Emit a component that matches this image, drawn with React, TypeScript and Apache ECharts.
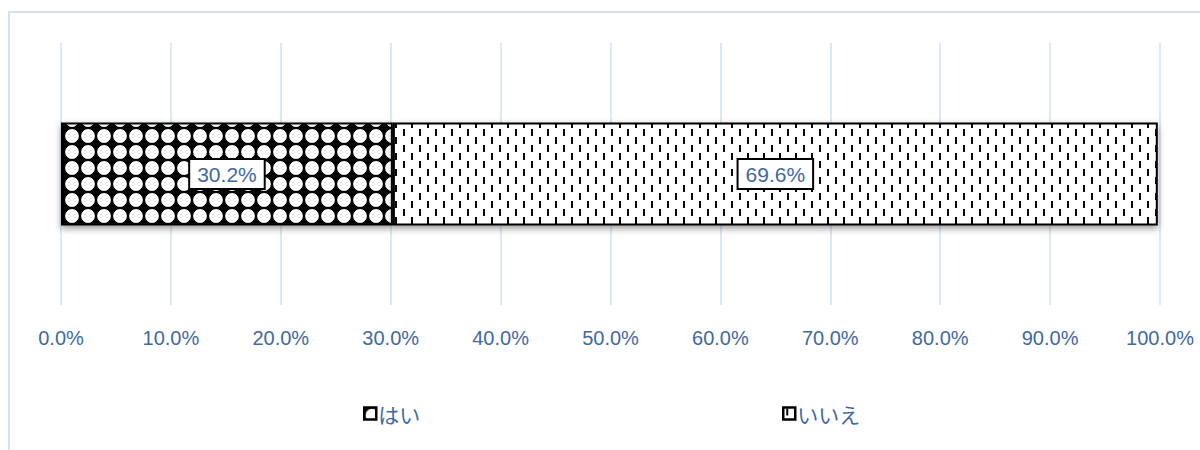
import React, { useEffect, useRef } from "react";
import * as echarts from "echarts";

const categories = ["回答"];
const seriesNames = ["はい", "いいえ"];
const yesValues = [30.2];
const noValues = [69.6];
const tickMax = 100;
const tickStep = 10;

const BLUE = "#3f69a3";
const FONT = "'Liberation Sans', Arial, sans-serif";
const JP_FONT = "'Noto Sans CJK JP', sans-serif";

function makeDotPattern(): HTMLCanvasElement {
  const c = document.createElement("canvas");
  c.width = 16;
  c.height = 16;
  const g = c.getContext("2d")!;
  g.fillStyle = "#000";
  g.fillRect(0, 0, 16, 16);
  g.fillStyle = "#fff";
  g.beginPath();
  g.arc(8, 8, 6.9, 0, Math.PI * 2);
  g.fill();
  g.fillStyle = "#000";
  const corners = [
    [0, 0],
    [16, 0],
    [0, 16],
    [16, 16],
  ];
  for (const [cx, cy] of corners) {
    g.beginPath();
    g.moveTo(cx - 6, cy);
    g.lineTo(cx, cy - 6);
    g.lineTo(cx + 6, cy);
    g.lineTo(cx, cy + 6);
    g.closePath();
    g.fill();
    g.beginPath();
    g.arc(cx, cy, 4, 0, Math.PI * 2);
    g.fill();
  }
  return c;
}

function makeDashPattern(): HTMLCanvasElement {
  const c = document.createElement("canvas");
  c.width = 16;
  c.height = 16;
  const g = c.getContext("2d")!;
  g.fillStyle = "#fff";
  g.fillRect(0, 0, 16, 16);
  g.fillStyle = "#000";
  g.fillRect(3, 1, 2, 7);
  g.fillRect(11, 9, 2, 7);
  return c;
}

export default function App() {
  const ref = useRef<HTMLDivElement>(null);
  useEffect(() => {
    document.body.style.margin = "0";
    if (!ref.current) return;
    const chart = echarts.init(ref.current, null, { renderer: "svg" });
    const dotPat: any = { image: makeDotPattern(), repeat: "repeat", imageWidth: 16, imageHeight: 16 };
    const dashPat: any = { image: makeDashPattern(), repeat: "repeat", imageWidth: 16, imageHeight: 16 };
    const labelCfg = {
      show: true,
      position: "inside",
      formatter: (p: any) => Number(p.value).toFixed(1) + "%",
      backgroundColor: "#fff",
      borderColor: "#000",
      borderWidth: 2,
      padding: [4, 7, 3, 7],
      fontSize: 21,
      color: BLUE,
      fontFamily: FONT,
    };
    const itemBase = {
      borderColor: "#000",
      borderWidth: 2,
      shadowColor: "rgba(0,0,0,0.4)",
      shadowBlur: 7,
      shadowOffsetY: 3,
    };
    const legendBase = {
      top: 398,
      icon: "rect",
      itemWidth: 12,
      itemHeight: 12,
      itemStyle: { borderWidth: 2.5, borderColor: "#000", shadowBlur: 0, shadowOffsetY: 0 },
      textStyle: { fontSize: 21, color: BLUE, fontFamily: JP_FONT, padding: [0, 0, 0, -3] },
    };
    chart.setOption({
      animation: false,
      graphic: [
        {
          type: "rect",
          shape: { x: 9, y: 12, width: 1300, height: 600 },
          style: { fill: "none", stroke: "#d3e0f2", lineWidth: 2 },
          silent: true,
          z: -10,
        },
      ],
      grid: { left: 61, right: 40, top: 43, bottom: 145 },
      xAxis: {
        type: "value",
        min: 0,
        max: tickMax,
        interval: tickStep,
        axisLine: { show: false },
        axisTick: { show: false },
        splitLine: { show: true, lineStyle: { color: "#d3e0f2", width: 1.5 } },
        axisLabel: {
          formatter: (v: number) => v.toFixed(1) + "%",
          fontSize: 20,
          color: BLUE,
          fontFamily: FONT,
          margin: 23,
        },
      },
      yAxis: {
        type: "category",
        data: categories,
        show: false,
      },
      legend: [
        { ...legendBase, data: [seriesNames[0]], left: 358 },
        { ...legendBase, data: [seriesNames[1]], left: 777 },
      ],
      series: [
        {
          name: seriesNames[0],
          type: "bar",
          stack: "total",
          data: yesValues,
          barWidth: 103,
          itemStyle: { ...itemBase, color: dotPat },
          label: labelCfg,
        },
        {
          name: seriesNames[1],
          type: "bar",
          stack: "total",
          data: noValues,
          barWidth: 103,
          itemStyle: { ...itemBase, color: dashPat },
          label: labelCfg,
        },
      ],
    });
    return () => chart.dispose();
  }, []);
  return (
    <div
      ref={ref}
      style={{ position: "absolute", left: 0, top: 0, width: 1200, height: 450, background: "#fff" }}
    />
  );
}
